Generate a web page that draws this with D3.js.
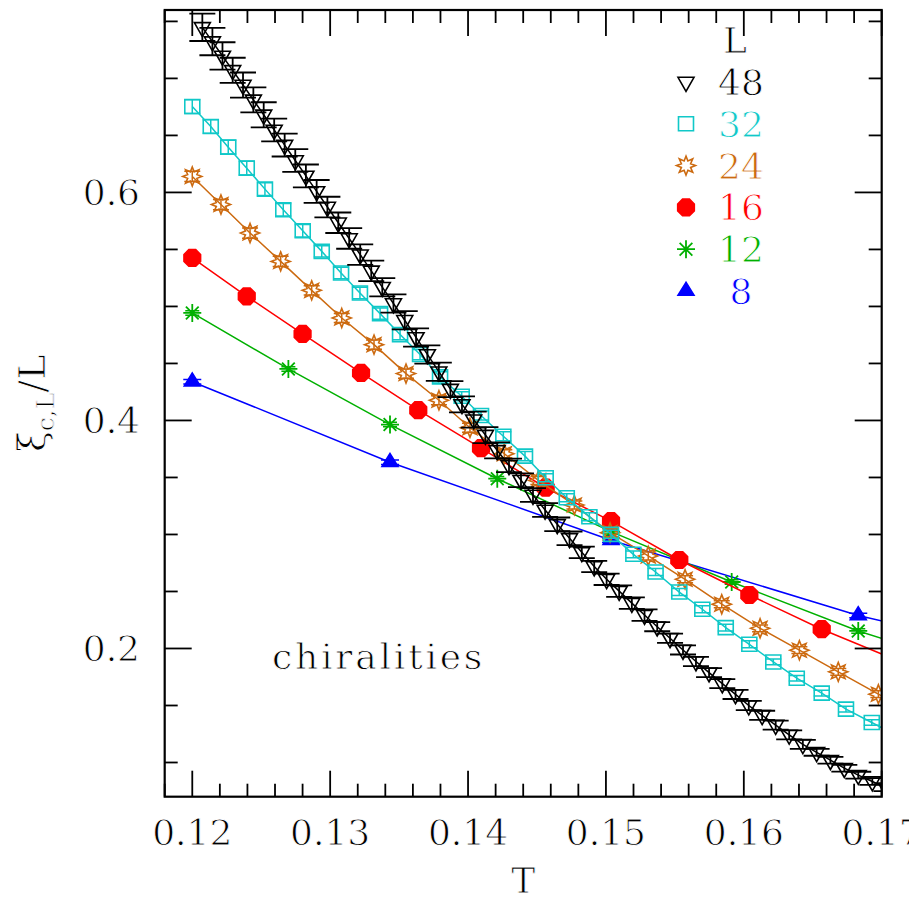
<!DOCTYPE html>
<html>
<head>
<meta charset="utf-8">
<script src="https://cdn.jsdelivr.net/npm/d3@7/dist/d3.min.js"></script>
<style>
  body { margin: 0; background: #fff; }
  svg { display: block; }
  text { font-family: "DejaVu Serif", serif; fill: #000; stroke: #fff; stroke-width: 0.9px; paint-order: fill stroke; }
</style>
</head>
<body>
<div id="chart"></div>
<script>
// ---- data (T, xi_c,L / L, error) ----
const T8  = [0.12000, 0.13434, 0.15037, 0.16830, 0.18850];
const V8  = [0.4340, 0.3634, 0.2950, 0.2290, 0.1710];
const E8  = [0.002, 0.002, 0.002, 0.002, 0.002];

const T12 = [0.12000, 0.12697, 0.13434, 0.14212, 0.15037, 0.15912, 0.16830, 0.17810];
const V12 = [0.4943, 0.4452, 0.3964, 0.3489, 0.3025, 0.2583, 0.2154, 0.1780];
const E12 = [0.002, 0.002, 0.002, 0.002, 0.002, 0.002, 0.002, 0.002];

const T16 = [0.12000, 0.12395, 0.12800, 0.13224, 0.13639, 0.14094, 0.14563, 0.15037,
             0.15532, 0.16040, 0.16565, 0.17110];
const V16 = [0.5425, 0.5089, 0.4759, 0.4417, 0.4090, 0.3757, 0.3410, 0.3117,
             0.2776, 0.2469, 0.2169, 0.1896];
const E16 = [0.003, 0.003, 0.003, 0.003, 0.003, 0.003, 0.003, 0.003, 0.003, 0.003, 0.003, 0.003];

const T24 = [0.12000, 0.12208, 0.12419, 0.12641, 0.12866, 0.13084, 0.13318, 0.13550,
             0.13789, 0.14014, 0.14263, 0.14510, 0.14771, 0.15030, 0.15307, 0.15574,
             0.15840, 0.16118, 0.16403, 0.16685, 0.16976, 0.17272];
const V24 = [0.6140, 0.5894, 0.5644, 0.5395, 0.5141, 0.4899, 0.4665, 0.4411,
             0.4177, 0.3936, 0.3708, 0.3474, 0.3258, 0.3016, 0.2812, 0.2607,
             0.2388, 0.2177, 0.1985, 0.1795, 0.1599, 0.1405];
const E24 = [0.0045, 0.0045, 0.0045, 0.0045, 0.004, 0.004, 0.004, 0.004,
             0.004, 0.004, 0.0035, 0.0035, 0.0035, 0.0035, 0.0035, 0.003,
             0.003, 0.003, 0.003, 0.003, 0.003, 0.003];

const T32 = [0.12000, 0.12134, 0.12261, 0.12395, 0.12527, 0.12660, 0.12801, 0.12939,
             0.13079, 0.13216, 0.13362, 0.13507, 0.13652, 0.13797, 0.13954, 0.14094,
             0.14256, 0.14413, 0.14563, 0.14716, 0.14880, 0.15037, 0.15199, 0.15360,
             0.15532, 0.15699, 0.15869, 0.16040, 0.16214, 0.16384, 0.16565, 0.16741,
             0.16928, 0.17111];
const V32 = [0.6753, 0.6578, 0.6397, 0.6213, 0.6029, 0.5848, 0.5664, 0.5483,
             0.5293, 0.5118, 0.4937, 0.4753, 0.4578, 0.4382, 0.4212, 0.4043,
             0.3862, 0.3687, 0.3498, 0.3322, 0.3156, 0.3001, 0.2826, 0.2671,
             0.2495, 0.2344, 0.2183, 0.2037, 0.1882, 0.1739, 0.1608, 0.1468,
             0.1351, 0.1236];
const E32 = [0.006, 0.006, 0.006, 0.006, 0.0055, 0.0055, 0.0055, 0.005,
             0.005, 0.005, 0.005, 0.0045, 0.0045, 0.0045, 0.004, 0.004,
             0.004, 0.004, 0.0035, 0.0035, 0.0035, 0.0035, 0.003, 0.003,
             0.003, 0.003, 0.003, 0.003, 0.0025, 0.0025, 0.0025, 0.0025,
             0.0025, 0.0025];

const T48 = [0.12073, 0.12146, 0.12219, 0.12293, 0.12368, 0.12443, 0.12518, 0.12594,
             0.12670, 0.12747, 0.12824, 0.12902, 0.12980, 0.13059, 0.13138, 0.13218,
             0.13298, 0.13378, 0.13459, 0.13541, 0.13623, 0.13705, 0.13788, 0.13872,
             0.13956, 0.14041, 0.14126, 0.14211, 0.14297, 0.14384, 0.14471, 0.14559,
             0.14647, 0.14736, 0.14825, 0.14915, 0.15005, 0.15096, 0.15188, 0.15280,
             0.15372, 0.15465, 0.15559, 0.15653, 0.15748, 0.15844, 0.15940, 0.16036,
             0.16133, 0.16231, 0.16329, 0.16428, 0.16528, 0.16628, 0.16729, 0.16830,
             0.16932, 0.17034];
const V48 = [0.7448, 0.7323, 0.7197, 0.7071, 0.6942, 0.6812, 0.6681, 0.6548,
             0.6415, 0.6280, 0.6145, 0.6009, 0.5872, 0.5734, 0.5596, 0.5454,
             0.5312, 0.5169, 0.5026, 0.4879, 0.4728, 0.4579, 0.4428, 0.4275,
             0.4141, 0.4007, 0.3872, 0.3738, 0.3606, 0.3476, 0.3346, 0.3215,
             0.3089, 0.2966, 0.2843, 0.2719, 0.2607, 0.2503, 0.2398, 0.2293,
             0.2191, 0.2090, 0.1987, 0.1886, 0.1788, 0.1692, 0.1597, 0.1500,
             0.1414, 0.1328, 0.1242, 0.1159, 0.1089, 0.1020, 0.0950, 0.0889,
             0.0833, 0.0779];
const E48 = [0.012, 0.012, 0.012, 0.011, 0.011, 0.011, 0.011, 0.010,
             0.010, 0.010, 0.010, 0.010, 0.009, 0.009, 0.009, 0.009,
             0.009, 0.008, 0.008, 0.008, 0.008, 0.008, 0.008, 0.007,
             0.007, 0.007, 0.007, 0.007, 0.006, 0.006, 0.006, 0.006,
             0.006, 0.006, 0.005, 0.005, 0.005, 0.005, 0.005, 0.005,
             0.004, 0.004, 0.004, 0.004, 0.004, 0.004, 0.004, 0.004,
             0.004, 0.004, 0.004, 0.004, 0.003, 0.003, 0.003, 0.003,
             0.003, 0.003];

const xMajor = [0.12, 0.13, 0.14, 0.15, 0.16, 0.17];
const xLabels = ['0.12', '0.13', '0.14', '0.15', '0.16', '0.17'];
const yMajor = [0.2, 0.4, 0.6];
const yLabels = ['0.2', '0.4', '0.6'];

// ---- layout ----
const W = 909, H = 897;
const X0 = 164.7, X1 = 881.7, Y0 = 796.7, Y1 = 10;

const x = d3.scaleLinear().domain([0.118, 0.17]).range([X0, X1]);
const y = d3.scaleLinear().domain([0.07, 0.76]).range([Y0, Y1]);

const xMinor = d3.range(0.118, 0.1701, 0.002).filter(t => !xMajor.some(m => Math.abs(m - t) < 1e-6));
const yMinor = d3.range(0.10, 0.76, 0.05).filter(v => !yMajor.some(m => Math.abs(m - v) < 1e-6));

const series = [
  { label: ' 8', T: T8,  V: V8,  E: E8,  color: '#0000ff', sym: 'triUp',   cap: 18 },
  { label: '12', T: T12, V: V12, E: E12, color: '#00b000', sym: 'aster',   cap: 14 },
  { label: '16', T: T16, V: V16, E: E16, color: '#ff0000', sym: 'oct',     cap: 14 },
  { label: '24', T: T24, V: V24, E: E24, color: '#cc6a10', sym: 'star',    cap: 16 },
  { label: '32', T: T32, V: V32, E: E32, color: '#10c8c8', sym: 'square',  cap: 16 },
  { label: '48', T: T48, V: V48, E: E48, color: '#000000', sym: 'triDown', cap: 26 }
];

// marker shapes centred on 0,0
function symbolPath(sym) {
  const poly = pts => 'M' + pts.map(p => p[0].toFixed(2) + ',' + p[1].toFixed(2)).join('L') + 'Z';
  if (sym === 'triDown') return poly([[0, 9.3], [-8, -4.7], [8, -4.7]]);
  if (sym === 'triUp') return poly([[0, -8.7], [-8, 4.3], [8, 4.3]]);
  if (sym === 'square') return poly([[-7.5, -7], [7.5, -7], [7.5, 7], [-7.5, 7]]);
  if (sym === 'oct') return poly(d3.range(8).map(i => {
    const a = Math.PI / 8 + i * Math.PI / 4;
    return [9 * Math.cos(a), 9 * Math.sin(a)];
  }));
  if (sym === 'star') return poly(d3.range(16).map(i => {
    const a = -Math.PI / 2 + i * Math.PI / 8, r = i % 2 ? 5 : 9.5;
    return [r * Math.cos(a), r * Math.sin(a)];
  }));
  if (sym === 'aster') return d3.range(4).map(i => {
    const a = i * Math.PI / 4, c = 9 * Math.cos(a), s = 9 * Math.sin(a);
    return `M${(-c).toFixed(2)},${(-s).toFixed(2)}L${c.toFixed(2)},${s.toFixed(2)}`;
  }).join('');
  return '';
}
const filled = sym => sym === 'triUp' || sym === 'oct';

function drawMarker(sel, s) {
  sel.append('path')
    .attr('d', symbolPath(s.sym))
    .attr('fill', filled(s.sym) ? s.color : 'none')
    .attr('stroke', s.color)
    .attr('stroke-width', s.sym === 'aster' ? 1.8 : 1.6)
    .attr('stroke-linejoin', 'miter');
}

const svg = d3.select('#chart').append('svg')
  .attr('width', W)
  .attr('height', H)
  .attr('viewBox', `0 0 ${W} ${H}`);

svg.append('defs').append('clipPath').attr('id', 'plot')
  .append('rect').attr('x', X0).attr('y', Y1).attr('width', X1 - X0).attr('height', Y0 - Y1);

const plot = svg.append('g').attr('clip-path', 'url(#plot)');

const line = d3.line().x(d => x(d.t)).y(d => y(d.v));

series.forEach(s => {
  const pts = s.T.map((t, i) => ({ t, v: s.V[i], e: s.E[i] }));
  const g = plot.append('g');

  g.append('path')
    .datum(pts)
    .attr('d', line)
    .attr('fill', 'none')
    .attr('stroke', s.color)
    .attr('stroke-width', 1.5);

  // error bars
  g.selectAll('.eb').data(pts).enter().append('path')
    .attr('fill', 'none')
    .attr('stroke', s.color)
    .attr('stroke-width', s.sym === 'triDown' ? 1.8 : 1.5)
    .attr('d', d => {
      const cx = x(d.t), yt = y(d.v + d.e), yb = y(d.v - d.e), h = s.cap / 2;
      return `M${cx},${yt}V${yb}M${cx - h},${yt}H${cx + h}M${cx - h},${yb}H${cx + h}`;
    });

  g.selectAll('.mk').data(pts).enter().append('g')
    .attr('transform', d => `translate(${x(d.t)},${y(d.v)})`)
    .each(function () { drawMarker(d3.select(this), s); });
});

// ---- axes: ticks point inwards on all four sides ----
const axes = svg.append('g').attr('stroke', '#000').attr('stroke-width', 1.8);

function xTicks(vals, len) {
  vals.forEach(v => {
    axes.append('line').attr('x1', x(v)).attr('x2', x(v)).attr('y1', Y0).attr('y2', Y0 - len);
    axes.append('line').attr('x1', x(v)).attr('x2', x(v)).attr('y1', Y1).attr('y2', Y1 + len);
  });
}
function yTicks(vals, len) {
  vals.forEach(v => {
    axes.append('line').attr('y1', y(v)).attr('y2', y(v)).attr('x1', X0).attr('x2', X0 + len);
    axes.append('line').attr('y1', y(v)).attr('y2', y(v)).attr('x1', X1).attr('x2', X1 - len);
  });
}
xTicks(xMajor, 26);
xTicks(xMinor, 13);
yTicks(yMajor, 27);
yTicks(yMinor, 13);

axes.append('rect')
  .attr('x', X0).attr('y', Y1)
  .attr('width', X1 - X0).attr('height', Y0 - Y1)
  .attr('fill', 'none')
  .attr('stroke-width', 2.2);

// tick labels
svg.append('g').selectAll('text').data(xMajor).enter().append('text')
  .attr('x', d => x(d))
  .attr('y', 845)
  .attr('text-anchor', 'middle')
  .attr('font-size', 36)
  .text((d, i) => xLabels[i]);

svg.append('g').selectAll('text').data(yMajor).enter().append('text')
  .attr('x', 140)
  .attr('y', d => y(d) + 13)
  .attr('text-anchor', 'end')
  .attr('font-size', 36)
  .text((d, i) => yLabels[i]);

// axis titles
svg.append('text')
  .attr('x', (X0 + X1) / 2)
  .attr('y', 893)
  .attr('text-anchor', 'middle')
  .attr('font-size', 36)
  .text('T');

const yt = svg.append('text')
  .attr('transform', `translate(45,${(Y0 + Y1) / 2}) rotate(-90)`)
  .attr('text-anchor', 'middle')
  .attr('font-size', 38);
yt.append('tspan').text('ξ');
yt.append('tspan').attr('font-size', 25).attr('dy', 9).text('c,L');
yt.append('tspan').attr('dy', -9).text('/L');

// annotation
svg.append('text')
  .attr('x', 272)
  .attr('y', 669)
  .attr('font-size', 36)
  .attr('letter-spacing', 2.8)
  .text('chiralities');

// ---- legend ----
const legend = svg.append('g');
legend.append('text').attr('x', 723).attr('y', 53).attr('font-size', 36).text('L');

const legRows = series.slice().reverse();
legRows.forEach((s, i) => {
  const cy = 82 + i * 41.8;
  const row = legend.append('g');
  row.append('g').attr('transform', `translate(686,${cy})`)
    .call(sel => drawMarker(sel, s));
  row.append('text')
    .attr('x', 718)
    .attr('y', cy + 13)
    .attr('font-size', 36)
    .style('fill', s.color)
    .style('white-space', 'pre')
    .text(s.label);
});
</script>
</body>
</html>
